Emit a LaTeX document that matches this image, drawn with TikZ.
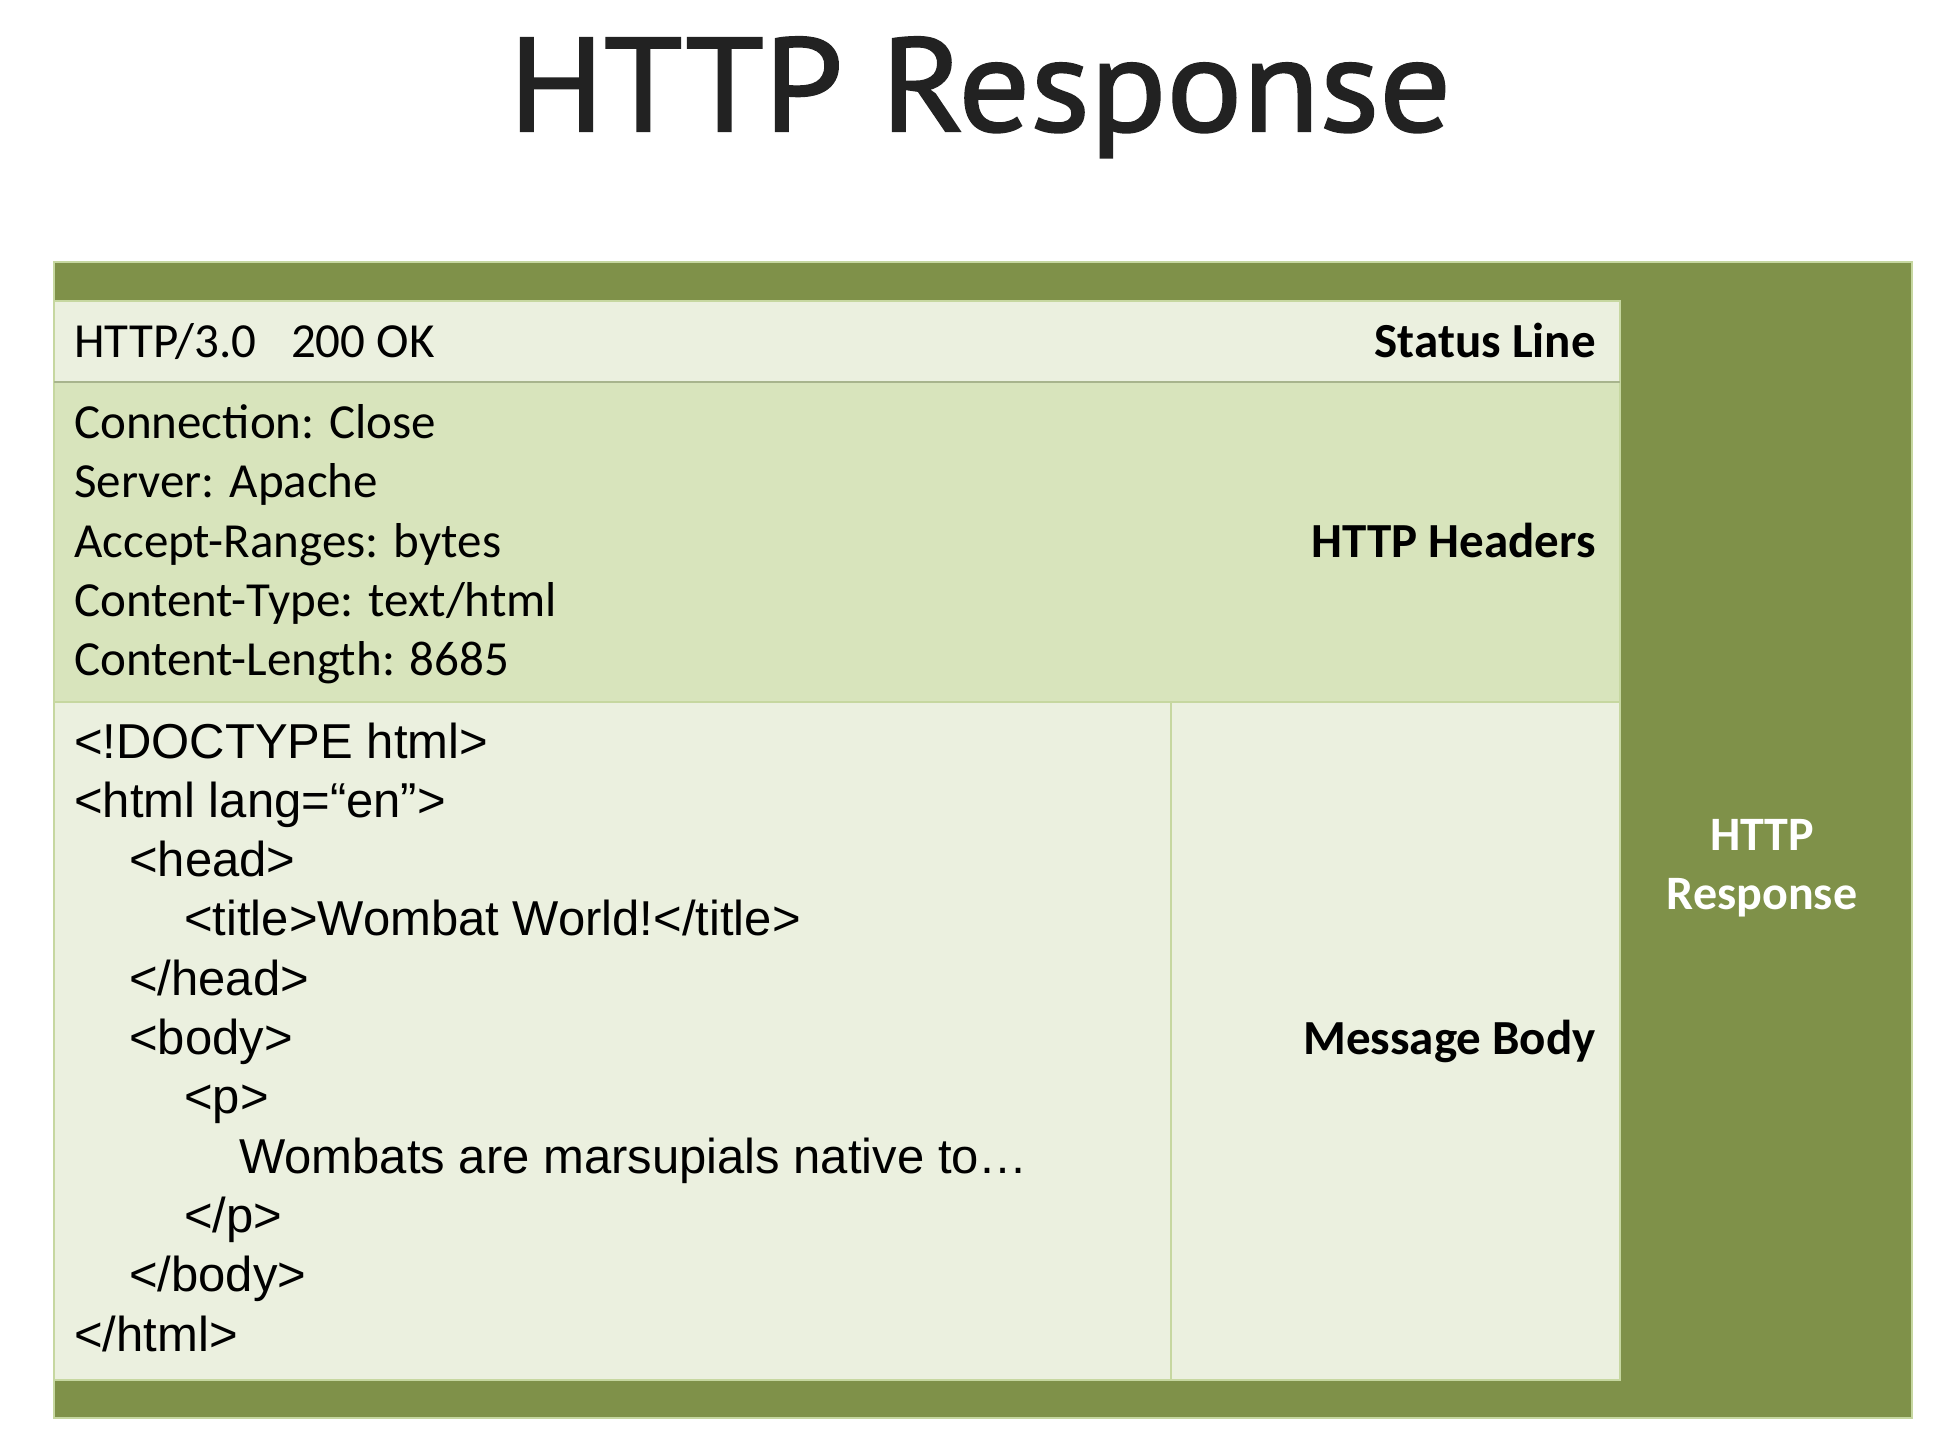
\documentclass[tikz,border=0pt]{standalone}
\usepackage{fontspec}
\setmainfont{Carlito}
\newfontfamily\codefont{Liberation Sans}
\newfontfamily\titlefont[FakeBold=1.6]{PT Sans}

\definecolor{outergreen}{HTML}{7F9149}
\definecolor{lightrow}{HTML}{EBF0DF}
\definecolor{midrow}{HTML}{D8E4BC}
\definecolor{rowrule}{HTML}{C6D7A0}
\definecolor{titlegray}{HTML}{222222}

\begin{document}
\begin{tikzpicture}[x=1pt,y=-1pt,
  txt/.style={inner sep=0pt, anchor=base west, font=\fontsize{49}{59}\selectfont},
  code/.style={inner sep=0pt, anchor=base west, font=\codefont\fontsize{49}{59}\selectfont},
  lbl/.style={inner sep=0pt, anchor=base east, font=\bfseries\fontsize{49}{59}\selectfont},
  side/.style={inner sep=0pt, anchor=base, text=white, font=\bfseries\fontsize{48}{59}\selectfont},
  rowbox/.style={draw=rowrule, line width=1.5pt},
]
\useasboundingbox (0,0) rectangle (1958,1452);
\fill[white] (0,0) rectangle (1958,1452);

% title
\node[inner sep=0pt, anchor=base, text=titlegray] (title) at (980,131)
  {\resizebox{942pt}{94pt}{\titlefont HTTP Response}};

% outer frame
\filldraw[fill=outergreen, draw=rowrule, line width=1.2pt] (54,262) rectangle (1912,1418);

% rows
\filldraw[rowbox, fill=lightrow] (54,301) rectangle (1620,382);
\filldraw[rowbox, fill=midrow]   (54,382) rectangle (1620,702);
\filldraw[rowbox, fill=lightrow] (54,702) rectangle (1620,1380);
\draw[rowrule, line width=1.5pt] (1171,702) -- (1171,1380);
\draw[draw=rowrule!80!black!90, line width=1.2pt] (54,382) -- (1620,382);

% status line
\node[txt] (status) at (74,357) {HTTP/3.0\hspace{0.7em}200 OK};
\node[lbl] (statuslbl) at (1596,357) {Status Line};

% headers
\node[txt] (h1) at (74,438.5) {Connection: Close};
\node[txt] (h2) at (74,497.8) {Server: Apache};
\node[txt] (h3) at (74,557.1) {Accept-Ranges: bytes};
\node[txt] (h4) at (74,616.4) {Content-Type: text/html};
\node[txt] (h5) at (74,675.7) {Content-Length: 8685};
\node[lbl] (headlbl) at (1596,557.1) {HTTP Headers};

% message body
\node[code] (b1)  at (74,758)    {<!DOCTYPE html>};
\node[code] (b2)  at (74,817.3)  {<html lang=“en”>};
\node[code] (b3)  at (129,876.6) {<head>};
\node[code] (b4)  at (184,935.9) {<title>Wombat World!</title>};
\node[code] (b5)  at (129,995.2) {</head>};
\node[code] (b6)  at (129,1054.5) {<body>};
\node[code] (b7)  at (184,1113.8) {<p>};
\node[code] (b8)  at (239,1173.1) {Wombats are marsupials native to…};
\node[code] (b9)  at (184,1232.4) {</p>};
\node[code] (b10) at (129,1291.7) {</body>};
\node[code] (b11) at (74,1351)    {</html>};
\node[lbl] (bodylbl) at (1596,1054.5) {Message Body};

% side label
\node[side] (resp1) at (1762,850) {HTTP};
\node[side] (resp2) at (1762,909.5) {Response};
\end{tikzpicture}
\end{document}
